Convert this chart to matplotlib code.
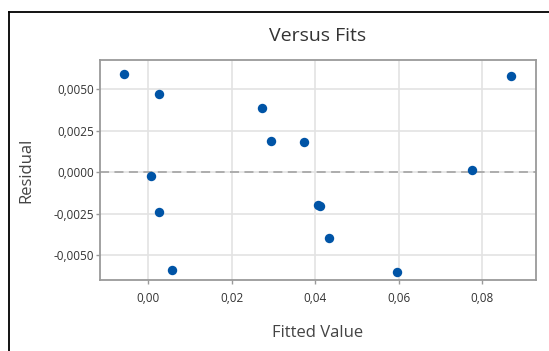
import matplotlib
matplotlib.use("Agg")
import matplotlib.pyplot as plt
from matplotlib.lines import Line2D
from matplotlib.ticker import FuncFormatter

fitted = [-0.0058, 0.0025, 0.0006, 0.0025, 0.0057, 0.0273, 0.0293, 0.0374,
          0.0406, 0.0411, 0.0432, 0.0597, 0.0775, 0.0870]
residual = [0.0059, 0.0047, -0.00026, -0.00243, -0.00592, 0.00387, 0.0019, 0.00181,
            -0.00197, -0.00207, -0.00399, -0.00604, 0.00012, 0.0058]
xticks = [0.00, 0.02, 0.04, 0.06, 0.08]
yticks = [-0.0050, -0.0025, 0.0, 0.0025, 0.0050]

plt.rcParams['font.family'] = ['Open Sans', 'DejaVu Sans']

fig = plt.figure(figsize=(5.49, 3.51), dpi=100)
ax = fig.add_axes([100 / 549, 1 - 280 / 351, 436 / 549, 220 / 351])

ax.scatter(fitted, residual, s=46, color='#0054a6', zorder=3, linewidths=0)
ax.axhline(0, color='#a8a8a8', linestyle=(0, (5, 3)), linewidth=1.3, zorder=2)

ax.set_xlim(-0.0116, 0.0929)
ax.set_ylim(-0.00651, 0.00677)
ax.set_xticks(xticks)
ax.set_yticks(yticks)
ax.xaxis.set_major_formatter(FuncFormatter(lambda v, p: f"{v:.2f}".replace('.', ',')))
ax.yaxis.set_major_formatter(FuncFormatter(lambda v, p: f"{v:.4f}".replace('.', ',')))
ax.grid(True, color='#e3e3e3', linewidth=1.2, zorder=0)
ax.set_axisbelow(True)
for s in ax.spines.values():
    s.set_color('#9a9a9a')
    s.set_linewidth(1.3)
ax.tick_params(colors='#9a9a9a', labelcolor='#333333', labelsize=8.5, length=3, width=1, pad=1)
ax.tick_params(axis='x', pad=6)

ax.set_title("Versus Fits", fontsize=14, color='#333333', pad=14)
ax.set_xlabel("Fitted Value", fontsize=12, color='#444444', labelpad=14)
ax.set_ylabel("Residual", fontsize=12, color='#444444', labelpad=14)

# document frame, cropped at right and bottom
fig.add_artist(Line2D([9 / 549, 9 / 549], [0, 1 - 12 / 351], color='black', linewidth=1.3))
fig.add_artist(Line2D([9 / 549, 1], [1 - 12 / 351, 1 - 12 / 351], color='black', linewidth=1.3))

fig.savefig("out.png", dpi=100)
